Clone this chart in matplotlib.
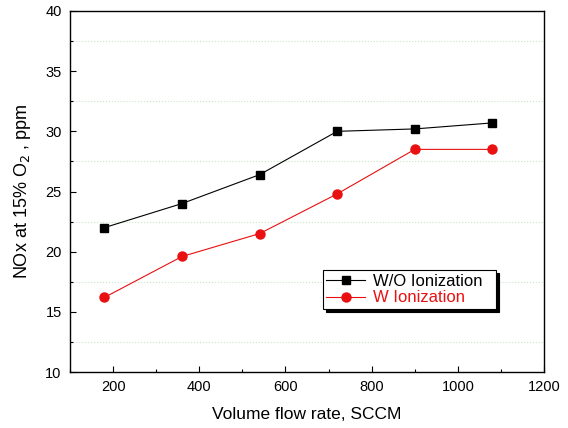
import matplotlib.pyplot as plt
import numpy as np

plt.rcParams['font.family'] = ['Liberation Sans', 'DejaVu Sans']

flow_rate = [180, 360, 540, 720, 900, 1080]
nox_without = [22.0, 24.0, 26.4, 30.0, 30.2, 30.7]
nox_with = [16.2, 19.6, 21.5, 24.8, 28.5, 28.5]

fig = plt.figure(figsize=(5.68, 4.28), dpi=100)
ax = fig.add_axes([70 / 568, 1 - 372 / 428, 474 / 568, 361 / 428])

ax.plot(flow_rate, nox_without, color='black', lw=0.8, marker='s', ms=5.5,
        label='W/O Ionization')
ax.plot(flow_rate, nox_with, color='#e81010', lw=0.8, marker='o', ms=6.5,
        label='W Ionization')

ax.set_xlim(100, 1200)
ax.set_ylim(10, 40)
ax.set_xticks(np.arange(200, 1201, 200))
ax.set_xticks(np.arange(100, 1201, 100), minor=True)
ax.set_yticks(np.arange(10, 41, 5))
ax.set_yticks(np.arange(12.5, 40, 5), minor=True)
ax.tick_params(direction='in', labelsize=10.5, length=4, width=0.8, pad=6)
ax.tick_params(which='minor', direction='in', length=2.5, width=0.8)
ax.grid(which='minor', axis='y', color='#c8e6c8', ls=':', lw=0.8)
for s in ax.spines.values():
    s.set_linewidth(1.0)

ax.set_xlabel('Volume flow rate, SCCM', fontsize=12.5, labelpad=9)
ax.set_ylabel('NOx at 15% O$_2$ , ppm', fontsize=13, labelpad=9)

leg = ax.legend(loc='lower left', bbox_to_anchor=(0.534, 0.175, 0.365, 0.127),
                mode='expand', fontsize=12, fancybox=False,
                shadow={'color': 'black', 'alpha': 1},
                framealpha=1, edgecolor='black', handlelength=2.3,
                handletextpad=0.5, borderpad=0.2, labelspacing=0.1,
                borderaxespad=0)
leg.get_frame().set_linewidth(0.8)
leg.get_texts()[1].set_color('#e81010')

fig.savefig('out.png', dpi=100)
